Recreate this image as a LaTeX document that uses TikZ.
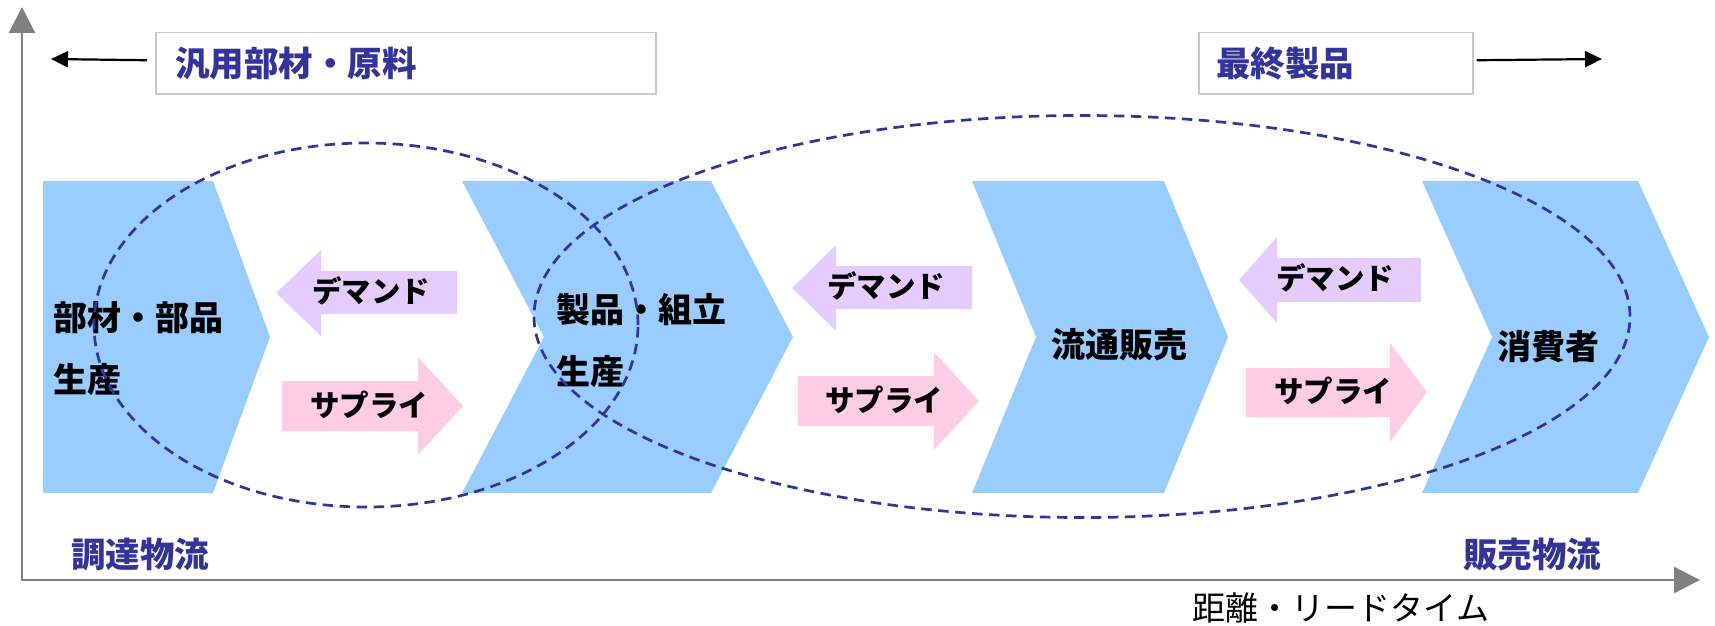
\documentclass[tikz,border=0pt]{standalone}
\usepackage{fontspec}
\newfontfamily\jp{Noto Sans CJK JP}
\usetikzlibrary{arrows.meta}
\definecolor{chev}{HTML}{99CCFF}
\definecolor{dem}{HTML}{E5CCFF}
\definecolor{sup}{HTML}{FFCCE6}
\definecolor{navy}{HTML}{333399}
\definecolor{boxgray}{HTML}{C8C8C8}
\definecolor{axisgray}{HTML}{808080}
\begin{document}
\begin{tikzpicture}[x=1pt,y=-1pt,
  chevron/.style={fill=chev,draw=none},
  demandarrow/.style={fill=dem,draw=none},
  supplyarrow/.style={fill=sup,draw=none},
  blocklabel/.style={font=\jp\bfseries\fontsize{34}{34}\selectfont,inner sep=0pt,text=black},
  flowlabel/.style={font=\jp\bfseries\fontsize{29.5}{29.5}\selectfont,inner sep=0pt,text=black},
  navylabel/.style={font=\jp\bfseries\fontsize{34.5}{34.5}\selectfont,inner sep=0pt,text=navy},
  axislabel/.style={font=\jp\fontsize{33}{33}\selectfont,inner sep=0pt,text=black},
  topbox/.style={draw=boxgray,line width=1.5pt,fill=white,inner sep=0pt,anchor=north west},
  toparrow/.style={line width=2.2pt,black,-{Triangle[length=17pt,width=16pt]}},
  axisline/.style={line width=2.2pt,axisgray,{Triangle[length=26pt,width=26pt]}-{Triangle[length=26pt,width=26pt]}},
  zone/.style={draw=navy,line width=2.7pt,dash pattern=on 10.5pt off 6.5pt}
]
\useasboundingbox (0,0) rectangle (1715,626);

% axes
\coordinate (ytip) at (22,7);
\coordinate (origin) at (22,580);
\coordinate (xtip) at (1700,580);
\draw[axisline] (ytip) -- (origin) -- (xtip);

% top boxes
\node[topbox,minimum width=500pt,minimum height=61pt] (box1) at (155,32) {};
\node[navylabel,anchor=west] (lab1) at ([xshift=20pt]box1.west) {汎用部材・原料};
\node[topbox,minimum width=274pt,minimum height=61pt] (box2) at (1198,32) {};
\node[navylabel,anchor=west] (lab2) at ([xshift=18pt]box2.west) {最終製品};
\coordinate (ltip) at (51,59);
\coordinate (rtip) at (1602,59);
\draw[toparrow] ([xshift=-8pt,yshift=3pt]box1.west) -- (ltip);
\draw[toparrow] ([xshift=3pt,yshift=3pt]box2.east) -- (rtip);

% chevrons
\fill[chevron] (43,181) -- (213,181) -- (270,337) -- (213,493) -- (43,493) -- cycle;
\fill[chevron] (462,181) -- (711,181) -- (793,337) -- (711,493) -- (462,493) -- (544,337) -- cycle;
\fill[chevron] (972,181) -- (1164,181) -- (1228,337) -- (1164,493) -- (972,493) -- (1036,337) -- cycle;
\fill[chevron] (1422,181) -- (1638,181) -- (1709,337) -- (1638,493) -- (1422,493) -- (1492,337) -- cycle;

% demand arrows
\fill[demandarrow] (276,293) -- (321,250) -- (321,271) -- (457,271) -- (457,314) -- (321,314) -- (321,336) -- cycle;
\fill[demandarrow] (792,288) -- (836,245) -- (836,266) -- (972,266) -- (972,309) -- (836,309) -- (836,331) -- cycle;
\fill[demandarrow] (1239,280) -- (1277,237) -- (1277,258) -- (1421,258) -- (1421,302) -- (1277,302) -- (1277,323) -- cycle;
% supply arrows
\fill[supplyarrow] (282,381) -- (418,381) -- (418,357) -- (463,406) -- (418,455) -- (418,431) -- (282,431) -- cycle;
\fill[supplyarrow] (798,376) -- (934,376) -- (934,352) -- (979,401) -- (934,450) -- (934,426) -- (798,426) -- cycle;
\fill[supplyarrow] (1246,368) -- (1390,368) -- (1390,343) -- (1427,392) -- (1390,442) -- (1390,417) -- (1246,417) -- cycle;

% labels on arrows
\node[flowlabel] (d1) at (371,291) {デマンド};
\node[flowlabel] (d2) at (886,286) {デマンド};
\node[flowlabel] (d3) at (1335,278) {デマンド};
\node[flowlabel] (s1) at (369,405) {サプライ};
\node[flowlabel] (s2) at (884,400) {サプライ};
\node[flowlabel] (s3) at (1333,391) {サプライ};

% chevron labels
\node[blocklabel,anchor=west] (c1a) at (53,318) {部材・部品};
\node[blocklabel,anchor=west] (c1b) at (53,380) {生産};
\node[blocklabel,anchor=west] (c2a) at (556,310) {製品・組立};
\node[blocklabel,anchor=west] (c2b) at (556,372) {生産};
\node[blocklabel] (c3) at (1119,345) {流通販売};
\node[blocklabel] (c4) at (1548,347) {消費者};

% zones
\draw[zone] (366,325) ellipse [x radius=272pt, y radius=182pt];
\draw[zone] (1082,316.5) ellipse [x radius=548pt, y radius=201pt];

% bottom labels
\node[navylabel] (proc) at (140,554) {調達物流};
\node[navylabel] (sales) at (1532,554) {販売物流};
\node[axislabel] (xlab) at (1341,608) {距離・リードタイム};
\end{tikzpicture}
\end{document}
